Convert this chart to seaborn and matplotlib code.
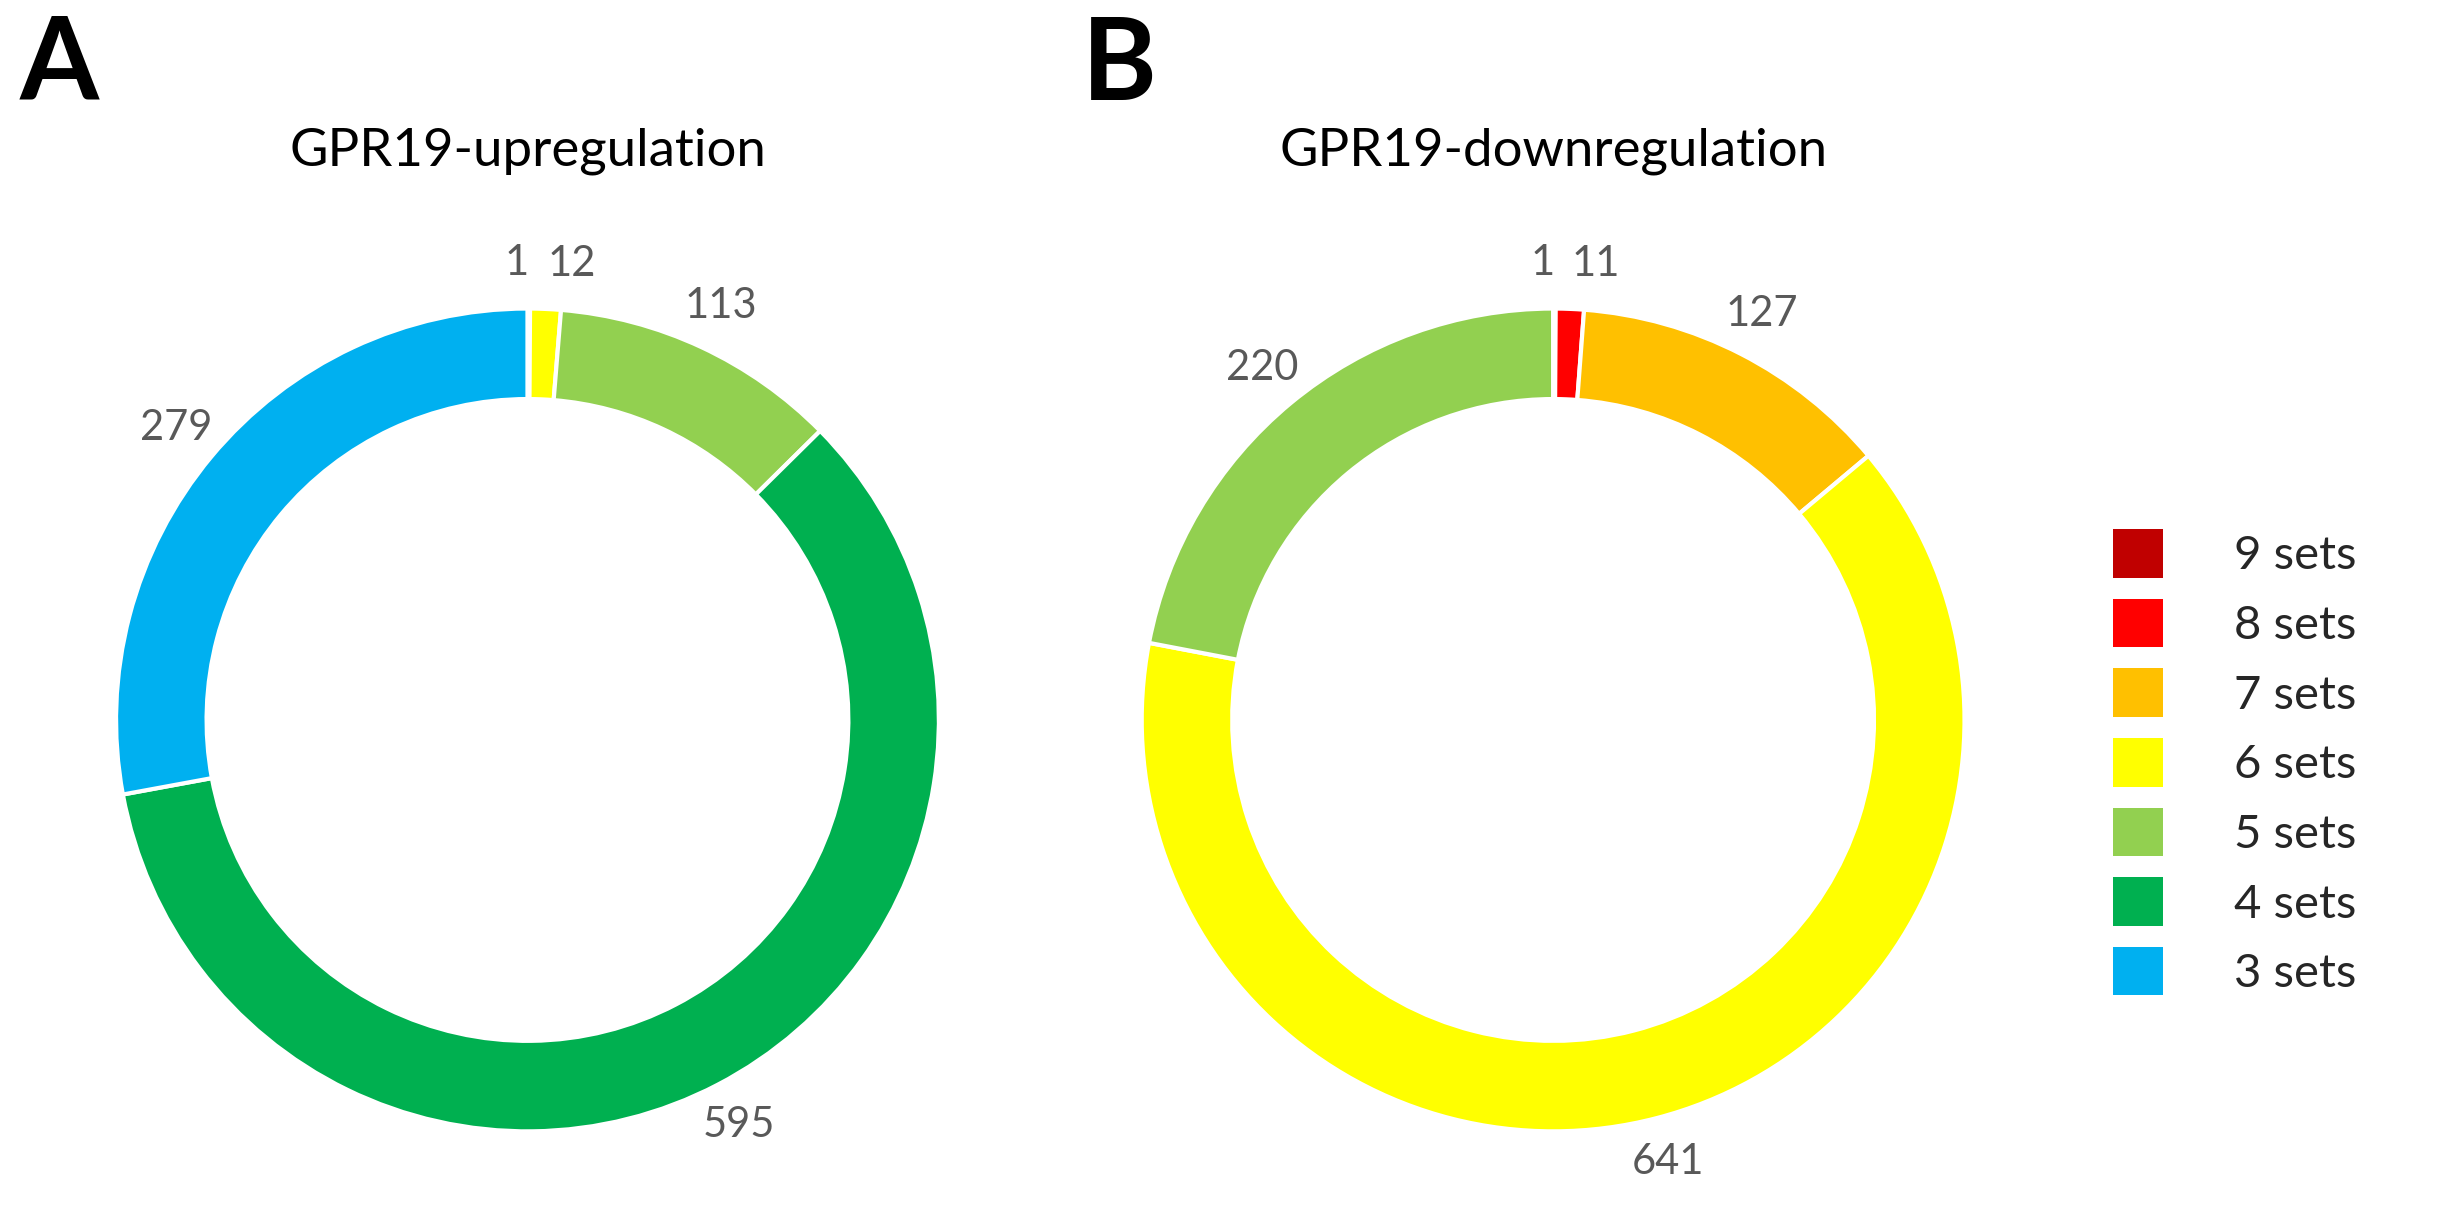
import matplotlib
matplotlib.use("Agg")
import matplotlib.pyplot as plt
import matplotlib.patches as mpatches
import numpy as np
import seaborn as sns

sns.set_theme(style="white")
plt.rcParams['font.family'] = ['Lato', 'DejaVu Sans']

set_names = ["9 sets", "8 sets", "7 sets", "6 sets", "5 sets", "4 sets", "3 sets"]
set_colors = ["#C00000", "#FF0000", "#FFC000", "#FFFF00", "#92D050", "#00B050", "#00B0F0"]
cmap = dict(zip(set_names, set_colors))

up_cats = ["9 sets", "6 sets", "5 sets", "4 sets", "3 sets"]
up_vals = [1, 12, 113, 595, 279]
down_cats = ["9 sets", "8 sets", "7 sets", "6 sets", "5 sets"]
down_vals = [1, 11, 127, 641, 220]

fig = plt.figure(figsize=(24.42, 12.10), dpi=100)
H = 0.68
W = H * 1210 / 2442

def donut(cx, cy, cats, vals, title, letter, lx, ha_overrides):
    ax = fig.add_axes([cx - W / 2, cy - H / 2, W, H])
    wedges, _ = ax.pie(vals, colors=[cmap[c] for c in cats], startangle=90,
                       counterclock=False, radius=1.0,
                       wedgeprops=dict(width=0.22, edgecolor="white", linewidth=3))
    for w, v, ha in zip(wedges, vals, ha_overrides):
        ang = np.deg2rad((w.theta1 + w.theta2) / 2)
        r = 1.11
        ax.text(r * np.cos(ang), r * np.sin(ang), str(v), ha=ha, va="center",
                fontsize=30, color="#595959")
    ax.set_xlim(-1, 1); ax.set_ylim(-1, 1)
    ax.set_aspect("equal")
    ax.axis("off")
    fig.text(cx, 0.875, title, ha="center", va="center", fontsize=38, color="black")
    fig.text(lx, 0.945, letter, ha="left", va="center", fontsize=82,
             fontweight="bold", color="black")

donut(0.216, 0.405, up_cats, up_vals, "GPR19-upregulation", "A", 0.008,
      ["right", "left", "center", "center", "center"])
donut(0.636, 0.405, down_cats, down_vals, "GPR19-downregulation", "B", 0.443,
      ["right", "left", "center", "center", "center"])

handles = [mpatches.Patch(facecolor=c, edgecolor="none", label=n)
           for n, c in zip(set_names, set_colors)]
fig.legend(handles=handles, loc="center left", bbox_to_anchor=(0.848, 0.37),
           frameon=False, fontsize=34, handlelength=1.05, handleheight=1.2,
           handletextpad=1.5, labelspacing=0.45, labelcolor="#262626")

fig.savefig("out.png", dpi=100, facecolor="white")
